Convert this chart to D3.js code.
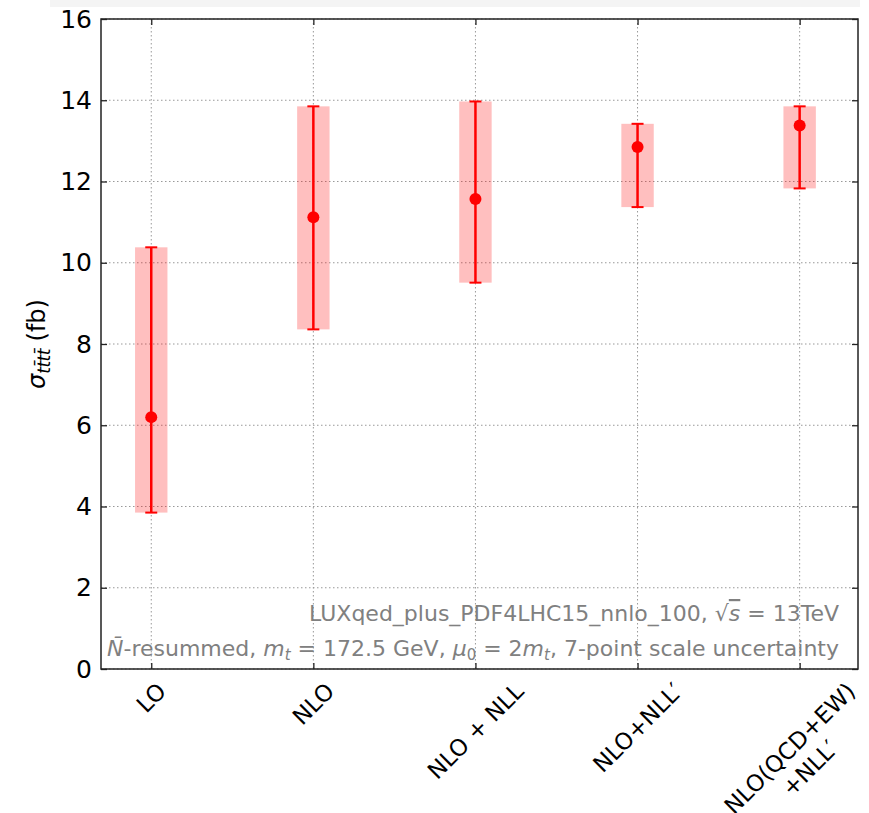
<!DOCTYPE html>
<html>
<head>
<meta charset="utf-8">
<script src="https://cdn.jsdelivr.net/npm/d3@7"></script>
<style>
  body { margin: 0; background: #fff; }
  svg { display: block; font-family: "DejaVu Sans", sans-serif; }
</style>
</head>
<body>
<div id="chart"></div>
<script>
// categories and values
const categories = ["LO", "NLO", "NLO + NLL", "NLO+NLL\u2032", "NLO(QCD+EW)\n+NLL\u2032"];
const central = [6.20, 11.12, 11.57, 12.85, 13.38];
const lower = [3.85, 8.36, 9.51, 11.37, 11.83];
const upper = [10.38, 13.85, 13.97, 13.42, 13.85];
const yTicks = [0, 2, 4, 6, 8, 10, 12, 14, 16];

const W = 869, H = 813;
const margin = { top: 19, right: 11, bottom: 144, left: 101 };
const width = W - margin.left - margin.right;
const height = H - margin.top - margin.bottom;

const svg = d3.select("#chart").append("svg")
    .attr("width", W)
    .attr("height", H);

// light strip at the very top of the screenshot
svg.append("rect").attr("x", 50).attr("y", 0).attr("width", 810).attr("height", 7).attr("fill", "#f4f4f4");

const g = svg.append("g").attr("transform", `translate(${margin.left},${margin.top})`);

const x = d3.scaleLinear().domain([-0.31, 4.36]).range([0, width]);
const y = d3.scaleLinear().domain([0, 16]).range([height, 0]);
const idx = categories.map((d, i) => i);

// grid
g.append("g").selectAll("line").data(yTicks).join("line")
    .attr("x1", 0).attr("x2", width)
    .attr("y1", d => y(d)).attr("y2", d => y(d))
    .attr("stroke", "#999").attr("stroke-width", 1).attr("stroke-dasharray", "1.5,2.5");
g.append("g").selectAll("line").data(idx).join("line")
    .attr("y1", 0).attr("y2", height)
    .attr("x1", d => x(d)).attr("x2", d => x(d))
    .attr("stroke", "#999").attr("stroke-width", 1).attr("stroke-dasharray", "1.5,2.5");

// uncertainty bands
const boxW = x(0.1) - x(-0.1);
g.append("g").selectAll("rect").data(idx).join("rect")
    .attr("x", d => x(d) - boxW / 2)
    .attr("width", boxW)
    .attr("y", d => y(upper[d]))
    .attr("height", d => y(lower[d]) - y(upper[d]))
    .attr("fill", "#ff0000").attr("fill-opacity", 0.25);

// error bars
const eb = g.append("g").attr("stroke", "#ff0000").attr("stroke-width", 2.5);
eb.selectAll("line.v").data(idx).join("line").attr("class", "v")
    .attr("x1", d => x(d)).attr("x2", d => x(d))
    .attr("y1", d => y(lower[d])).attr("y2", d => y(upper[d]));
[lower, upper].forEach(arr => {
  eb.append("g").selectAll("line").data(idx).join("line")
      .attr("x1", d => x(d) - 6).attr("x2", d => x(d) + 6)
      .attr("y1", d => y(arr[d])).attr("y2", d => y(arr[d]))
      .attr("stroke-width", 2);
});
g.append("g").selectAll("circle").data(idx).join("circle")
    .attr("cx", d => x(d)).attr("cy", d => y(central[d]))
    .attr("r", 6).attr("fill", "#ff0000");

// axes with inward ticks on all four sides
const axL = g.append("g").call(d3.axisLeft(y).tickValues(yTicks).tickSize(-6).tickPadding(9).tickFormat(d3.format("d")));
const axR = g.append("g").attr("transform", `translate(${width},0)`).call(d3.axisRight(y).tickValues(yTicks).tickSize(-6).tickFormat(""));
const axB = g.append("g").attr("transform", `translate(0,${height})`).call(d3.axisBottom(x).tickValues(idx).tickSize(-6).tickFormat(""));
const axT = g.append("g").call(d3.axisTop(x).tickValues(idx).tickSize(-6).tickFormat(""));
[axL, axR, axB, axT].forEach(a => {
  a.select(".domain").remove();
  a.selectAll("line").attr("stroke", "#222").attr("stroke-width", 1.3);
});
axL.selectAll("text").attr("font-size", 25).attr("fill", "#000").attr("font-family", "DejaVu Sans");

g.append("rect").attr("width", width).attr("height", height)
    .attr("fill", "none").attr("stroke", "#222").attr("stroke-width", 1.5);

// x tick labels rotated 45 degrees, bounding box centred on the tick
const fs = 23, lh = 28;
idx.forEach(i => {
  const lines = categories[i].split("\n");
  const lg = g.append("g");
  const t = lg.append("text").attr("font-size", fs).attr("text-anchor", "middle").attr("fill", "#000");
  lines.forEach((s, k) => {
    t.append("tspan").attr("x", 0).attr("y", (k - (lines.length - 1) / 2) * lh).attr("dy", "0.35em").text(s);
  });
  let w = 0;
  t.selectAll("tspan").each(function() { w = Math.max(w, this.getComputedTextLength()); });
  const h = (lines.length - 1) * lh + 20;
  const ext = (w + h) / Math.SQRT2;
  lg.attr("transform", `translate(${x(i)},${height + 11 + ext / 2}) rotate(-45)`);
});

// y label
const yl = g.append("text")
    .attr("transform", `translate(-56,${height / 2}) rotate(-90)`)
    .attr("text-anchor", "middle").attr("font-size", 24).attr("fill", "#000");
yl.append("tspan").attr("font-style", "italic").text("\u03c3");
yl.append("tspan").attr("font-style", "italic").attr("font-size", 17).attr("dy", 5).attr("letter-spacing", -0.5).text("tt\u0304tt\u0304");
yl.append("tspan").attr("dy", -5).text(" (fb)");

// annotation
const ann = g.append("g").attr("fill", "#808080").attr("font-size", 22).attr("text-anchor", "end");
const a1 = ann.append("text").attr("x", width - 19).attr("y", height - 48);
a1.append("tspan").text("LUXqed_plus_PDF4LHC15_nnlo_100, \u221a");
a1.append("tspan").attr("font-style", "italic").attr("text-decoration", "overline").text("s");
a1.append("tspan").text(" = 13TeV");
const a2 = ann.append("text").attr("x", width - 19).attr("y", height - 13);
a2.append("tspan").attr("font-style", "italic").text("N\u0304");
a2.append("tspan").text("-resummed, ");
a2.append("tspan").attr("font-style", "italic").text("m");
a2.append("tspan").attr("font-style", "italic").attr("font-size", 15).attr("dy", 4).text("t");
a2.append("tspan").attr("dy", -4).text(" = 172.5 GeV, ");
a2.append("tspan").attr("font-style", "italic").text("\u03bc");
a2.append("tspan").attr("font-size", 15).attr("dy", 4).text("0");
a2.append("tspan").attr("dy", -4).text(" = 2");
a2.append("tspan").attr("font-style", "italic").text("m");
a2.append("tspan").attr("font-style", "italic").attr("font-size", 15).attr("dy", 4).text("t");
a2.append("tspan").attr("dy", -4).text(", 7-point scale uncertainty");
</script>
</body>
</html>
